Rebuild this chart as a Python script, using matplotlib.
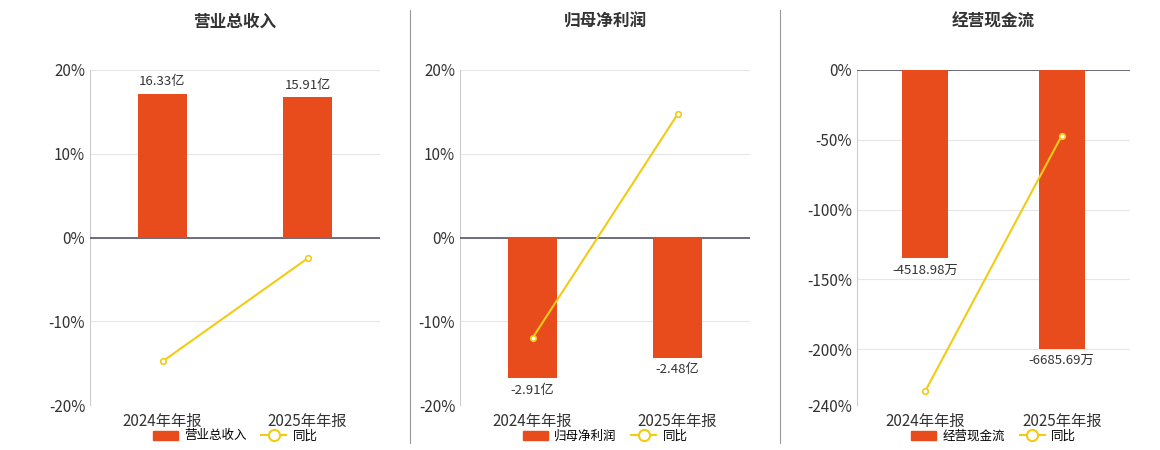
import matplotlib
matplotlib.use("Agg")
import matplotlib.pyplot as plt
from matplotlib.lines import Line2D
from matplotlib.patches import Patch

plt.rcParams['font.family'] = ['Noto Sans CJK SC', 'DejaVu Sans']

categories = ["2024年年报", "2025年年报"]
titles = ["营业总收入", "归母净利润", "经营现金流"]
bar_names = ["营业总收入", "归母净利润", "经营现金流"]
bar_values = [[16.33, 15.91], [-2.91, -2.48], [-4518.98, -6685.69]]
bar_labels = [["16.33亿", "15.91亿"], ["-2.91亿", "-2.48亿"], ["-4518.98万", "-6685.69万"]]
yoy_values = [[-14.8, -2.5], [-12.0, 14.7], [-230.0, -47.0]]
pct_ticks = [[20, 10, 0, -10, -20], [20, 10, 0, -10, -20], [0, -50, -100, -150, -200, -240]]
pct_lims = [(-20, 20), (-20, 20), (-240, 0)]
bar_lims = [(-19.0, 19.0), (-3.46, 3.46), (-8034, 0)]

BAR = "#E84B1C"
LINE = "#F2CB14"
W, H = 1160, 450
fig = plt.figure(figsize=(W/100, H/100), dpi=100)
panels = [(90, 380), (460, 750), (857, 1130)]
top, bot = 70, 405

for i, (x0, x1) in enumerate(panels):
    ax = fig.add_axes([x0/W, 1-bot/H, (x1-x0)/W, (bot-top)/H])
    ax2 = ax.twinx()
    ax.set_ylim(*pct_lims[i])
    ax2.set_ylim(*bar_lims[i])
    ax.set_xlim(-0.5, 1.5)
    ax.set_yticks(pct_ticks[i])
    ax.set_yticklabels([f"{t}%" for t in pct_ticks[i]], fontsize=11, color="#333333")
    ax.grid(axis='y', color="#e6e6e6", lw=0.8)
    ax.set_axisbelow(True)
    for s in ["top", "right", "bottom"]:
        ax.spines[s].set_visible(False)
        ax2.spines[s].set_visible(False)
    ax.spines["left"].set_color("#cccccc")
    ax2.spines["left"].set_visible(False)
    ax2.set_yticks([])
    ax.tick_params(axis='y', length=0)
    ax.set_xticks([0, 1])
    ax.set_xticklabels(categories, fontsize=11, color="#333333")
    ax.tick_params(axis='x', length=0, pad=6)
    ax.axhline(0, color="#555566", lw=1.2, zorder=3)
    for xt in [-0.5, 0.5, 1.5]:
        ax.plot([xt, xt], [0, 0], transform=ax.transData)
    xs = list(range(len(categories)))
    ax2.bar(xs, bar_values[i], width=0.34, color=BAR, zorder=2)
    for x, v, lab in zip(xs, bar_values[i], bar_labels[i]):
        off = 4 if v > 0 else -4
        ax2.annotate(lab, (x, v), xytext=(0, off), textcoords="offset points",
                     ha="center", va="bottom" if v > 0 else "top", fontsize=9.5, color="#333333")
    ax3 = ax.twinx()
    ax3.set_ylim(*pct_lims[i]); ax3.axis('off')
    ax3.plot(xs, yoy_values[i], color=LINE, lw=1.5, marker='o', ms=4,
             mfc="white", mec=LINE, mew=1.2, zorder=5)
    fig.text((x0+x1)/2/W, 1-22/H, titles[i], ha="center", va="center",
             fontsize=12, fontweight="bold", color="#333333")
    handles = [Patch(color=BAR), Line2D([0], [0], color=LINE, lw=1.5, marker='o', ms=8,
                                       mfc="white", mec=LINE, mew=1.5)]
    fig.legend(handles, [bar_names[i], "同比"], loc="center",
               bbox_to_anchor=((x0+x1)/2/W, 1-436/H), ncol=2, frameon=False,
               fontsize=9, handlelength=2, columnspacing=1.2, handletextpad=0.5)

for xd in [410, 780]:
    fig.add_artist(Line2D([xd/W, xd/W], [1-443/H, 1-10/H], color="#999999", lw=0.8))

fig.savefig("out.png", dpi=100)
